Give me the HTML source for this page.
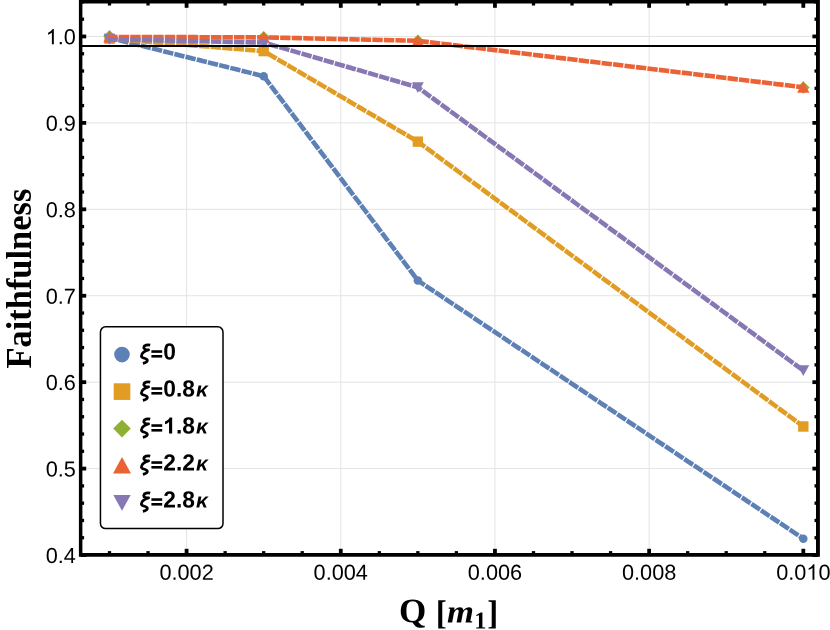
<!DOCTYPE html>
<html><head><meta charset="utf-8"><title>Faithfulness</title>
<style>
html,body{margin:0;padding:0;background:#fff;}
body{width:830px;height:630px;overflow:hidden;}
svg{display:block;will-change:transform;}
text{font-family:"Liberation Sans",sans-serif;fill:#000;}
.tkn{font-weight:normal;}
.lgn{font-weight:bold;}
.lg{font-size:21.6px;font-weight:bold;}
.lgi{font-size:21.6px;font-weight:bold;font-style:italic;}
.ax{font-family:"Liberation Serif",serif;font-weight:bold;}
</style></head><body>
<svg role="img" aria-label="Faithfulness versus Q [m1] for several values of xi" width="830" height="630" viewBox="0 0 830 630">
<rect x="0" y="0" width="830" height="630" fill="#fff"/>
<g stroke="#e3e3e3" stroke-width="1" fill="none">
<line x1="186.59" y1="1.8" x2="186.59" y2="554.8"/>
<line x1="340.77" y1="1.8" x2="340.77" y2="554.8"/>
<line x1="494.95" y1="1.8" x2="494.95" y2="554.8"/>
<line x1="649.13" y1="1.8" x2="649.13" y2="554.8"/>
<line x1="80.65" y1="468.6" x2="817.95" y2="468.6"/>
<line x1="80.65" y1="382.17" x2="817.95" y2="382.17"/>
<line x1="80.65" y1="295.74" x2="817.95" y2="295.74"/>
<line x1="80.65" y1="209.31" x2="817.95" y2="209.31"/>
<line x1="80.65" y1="122.88" x2="817.95" y2="122.88"/>
<line x1="80.65" y1="36.45" x2="817.95" y2="36.45"/>
</g>
<circle cx="109.50" cy="37.80" r="4.25" fill="#5E81B5"/>
<circle cx="263.68" cy="76.19" r="4.25" fill="#5E81B5"/>
<circle cx="417.86" cy="280.53" r="4.25" fill="#5E81B5"/>
<circle cx="803.31" cy="538.66" r="4.25" fill="#5E81B5"/>
<rect x="104.30" y="33.46" width="10.40" height="10.40" fill="#E19C24"/>
<rect x="258.48" y="45.91" width="10.40" height="10.40" fill="#E19C24"/>
<rect x="412.66" y="136.45" width="10.40" height="10.40" fill="#E19C24"/>
<rect x="798.11" y="421.30" width="10.40" height="10.40" fill="#E19C24"/>
<path d="M109.50 30.03L115.80 36.33L109.50 42.63L103.20 36.33Z" fill="#8FB032"/>
<path d="M263.68 30.89L269.98 37.19L263.68 43.49L257.38 37.19Z" fill="#8FB032"/>
<path d="M417.86 34.52L424.16 40.82L417.86 47.12L411.56 40.82Z" fill="#8FB032"/>
<path d="M803.31 81.13L809.61 87.43L803.31 93.73L797.01 87.43Z" fill="#8FB032"/>
<path d="M109.50 31.03L115.70 42.43L103.30 42.43Z" fill="#EB6235"/>
<path d="M263.68 31.46L269.88 42.86L257.48 42.86Z" fill="#EB6235"/>
<path d="M417.86 34.92L424.06 46.32L411.66 46.32Z" fill="#EB6235"/>
<path d="M803.31 81.36L809.51 92.76L797.11 92.76Z" fill="#EB6235"/>
<path d="M103.60 34.07L115.40 34.07L109.50 44.82Z" fill="#8778B3"/>
<path d="M257.78 37.35L269.58 37.35L263.68 48.10Z" fill="#8778B3"/>
<path d="M411.96 82.15L423.76 82.15L417.86 92.90Z" fill="#8778B3"/>
<path d="M797.41 365.27L809.21 365.27L803.31 376.02Z" fill="#8778B3"/>
<polyline points="109.50,37.80 263.68,76.19 417.86,280.53 803.31,538.66" fill="none" stroke="#5E81B5" stroke-width="4.6" stroke-dasharray="5.765 5.765" stroke-linecap="square" stroke-linejoin="miter"/>
<polyline points="109.50,38.66 263.68,51.11 417.86,141.65 803.31,426.50" fill="none" stroke="#E19C24" stroke-width="4.6" stroke-dasharray="5.765 5.765" stroke-linecap="square" stroke-linejoin="miter"/>
<polyline points="109.50,36.93 263.68,37.36 417.86,40.82 803.31,87.26" fill="none" stroke="#EB6235" stroke-width="4.6" stroke-dasharray="5.765 5.765" stroke-linecap="square" stroke-linejoin="miter"/>
<polyline points="109.50,39.27 263.68,42.55 417.86,87.35 803.31,370.47" fill="none" stroke="#8778B3" stroke-width="4.6" stroke-dasharray="5.765 5.765" stroke-linecap="square" stroke-linejoin="miter"/>
<line x1="80.65" y1="45.9" x2="817.95" y2="45.9" stroke="#000" stroke-width="2"/>
<g stroke="#000" stroke-width="3.4" fill="none">
<line stroke-width="3.3" x1="109.50" y1="554.8" x2="109.50" y2="551.0999999999999"/>
<line stroke-width="3.3" x1="109.50" y1="1.8" x2="109.50" y2="5.5"/>
<line stroke-width="3.3" x1="148.05" y1="554.8" x2="148.05" y2="551.0999999999999"/>
<line stroke-width="3.3" x1="148.05" y1="1.8" x2="148.05" y2="5.5"/>
<line stroke-width="3.8" x1="186.59" y1="554.8" x2="186.59" y2="548.8"/>
<line stroke-width="3.8" x1="186.59" y1="1.8" x2="186.59" y2="7.8"/>
<line stroke-width="3.3" x1="225.13" y1="554.8" x2="225.13" y2="551.0999999999999"/>
<line stroke-width="3.3" x1="225.13" y1="1.8" x2="225.13" y2="5.5"/>
<line stroke-width="3.3" x1="263.68" y1="554.8" x2="263.68" y2="551.0999999999999"/>
<line stroke-width="3.3" x1="263.68" y1="1.8" x2="263.68" y2="5.5"/>
<line stroke-width="3.3" x1="302.23" y1="554.8" x2="302.23" y2="551.0999999999999"/>
<line stroke-width="3.3" x1="302.23" y1="1.8" x2="302.23" y2="5.5"/>
<line stroke-width="3.8" x1="340.77" y1="554.8" x2="340.77" y2="548.8"/>
<line stroke-width="3.8" x1="340.77" y1="1.8" x2="340.77" y2="7.8"/>
<line stroke-width="3.3" x1="379.32" y1="554.8" x2="379.32" y2="551.0999999999999"/>
<line stroke-width="3.3" x1="379.32" y1="1.8" x2="379.32" y2="5.5"/>
<line stroke-width="3.3" x1="417.86" y1="554.8" x2="417.86" y2="551.0999999999999"/>
<line stroke-width="3.3" x1="417.86" y1="1.8" x2="417.86" y2="5.5"/>
<line stroke-width="3.3" x1="456.41" y1="554.8" x2="456.41" y2="551.0999999999999"/>
<line stroke-width="3.3" x1="456.41" y1="1.8" x2="456.41" y2="5.5"/>
<line stroke-width="3.8" x1="494.95" y1="554.8" x2="494.95" y2="548.8"/>
<line stroke-width="3.8" x1="494.95" y1="1.8" x2="494.95" y2="7.8"/>
<line stroke-width="3.3" x1="533.50" y1="554.8" x2="533.50" y2="551.0999999999999"/>
<line stroke-width="3.3" x1="533.50" y1="1.8" x2="533.50" y2="5.5"/>
<line stroke-width="3.3" x1="572.04" y1="554.8" x2="572.04" y2="551.0999999999999"/>
<line stroke-width="3.3" x1="572.04" y1="1.8" x2="572.04" y2="5.5"/>
<line stroke-width="3.3" x1="610.59" y1="554.8" x2="610.59" y2="551.0999999999999"/>
<line stroke-width="3.3" x1="610.59" y1="1.8" x2="610.59" y2="5.5"/>
<line stroke-width="3.8" x1="649.13" y1="554.8" x2="649.13" y2="548.8"/>
<line stroke-width="3.8" x1="649.13" y1="1.8" x2="649.13" y2="7.8"/>
<line stroke-width="3.3" x1="687.68" y1="554.8" x2="687.68" y2="551.0999999999999"/>
<line stroke-width="3.3" x1="687.68" y1="1.8" x2="687.68" y2="5.5"/>
<line stroke-width="3.3" x1="726.22" y1="554.8" x2="726.22" y2="551.0999999999999"/>
<line stroke-width="3.3" x1="726.22" y1="1.8" x2="726.22" y2="5.5"/>
<line stroke-width="3.3" x1="764.76" y1="554.8" x2="764.76" y2="551.0999999999999"/>
<line stroke-width="3.3" x1="764.76" y1="1.8" x2="764.76" y2="5.5"/>
<line stroke-width="3.8" x1="803.31" y1="554.8" x2="803.31" y2="548.8"/>
<line stroke-width="3.8" x1="803.31" y1="1.8" x2="803.31" y2="7.8"/>
<line stroke-width="3.8" x1="80.65" y1="555.03" x2="86.2" y2="555.03"/>
<line stroke-width="3.8" x1="817.95" y1="555.03" x2="812.4000000000001" y2="555.03"/>
<line stroke-width="3.3" x1="80.65" y1="537.74" x2="84.10000000000001" y2="537.74"/>
<line stroke-width="3.3" x1="817.95" y1="537.74" x2="814.5" y2="537.74"/>
<line stroke-width="3.3" x1="80.65" y1="520.46" x2="84.10000000000001" y2="520.46"/>
<line stroke-width="3.3" x1="817.95" y1="520.46" x2="814.5" y2="520.46"/>
<line stroke-width="3.3" x1="80.65" y1="503.17" x2="84.10000000000001" y2="503.17"/>
<line stroke-width="3.3" x1="817.95" y1="503.17" x2="814.5" y2="503.17"/>
<line stroke-width="3.3" x1="80.65" y1="485.89" x2="84.10000000000001" y2="485.89"/>
<line stroke-width="3.3" x1="817.95" y1="485.89" x2="814.5" y2="485.89"/>
<line stroke-width="3.8" x1="80.65" y1="468.60" x2="86.2" y2="468.60"/>
<line stroke-width="3.8" x1="817.95" y1="468.60" x2="812.4000000000001" y2="468.60"/>
<line stroke-width="3.3" x1="80.65" y1="451.31" x2="84.10000000000001" y2="451.31"/>
<line stroke-width="3.3" x1="817.95" y1="451.31" x2="814.5" y2="451.31"/>
<line stroke-width="3.3" x1="80.65" y1="434.03" x2="84.10000000000001" y2="434.03"/>
<line stroke-width="3.3" x1="817.95" y1="434.03" x2="814.5" y2="434.03"/>
<line stroke-width="3.3" x1="80.65" y1="416.74" x2="84.10000000000001" y2="416.74"/>
<line stroke-width="3.3" x1="817.95" y1="416.74" x2="814.5" y2="416.74"/>
<line stroke-width="3.3" x1="80.65" y1="399.46" x2="84.10000000000001" y2="399.46"/>
<line stroke-width="3.3" x1="817.95" y1="399.46" x2="814.5" y2="399.46"/>
<line stroke-width="3.8" x1="80.65" y1="382.17" x2="86.2" y2="382.17"/>
<line stroke-width="3.8" x1="817.95" y1="382.17" x2="812.4000000000001" y2="382.17"/>
<line stroke-width="3.3" x1="80.65" y1="364.88" x2="84.10000000000001" y2="364.88"/>
<line stroke-width="3.3" x1="817.95" y1="364.88" x2="814.5" y2="364.88"/>
<line stroke-width="3.3" x1="80.65" y1="347.60" x2="84.10000000000001" y2="347.60"/>
<line stroke-width="3.3" x1="817.95" y1="347.60" x2="814.5" y2="347.60"/>
<line stroke-width="3.3" x1="80.65" y1="330.31" x2="84.10000000000001" y2="330.31"/>
<line stroke-width="3.3" x1="817.95" y1="330.31" x2="814.5" y2="330.31"/>
<line stroke-width="3.3" x1="80.65" y1="313.03" x2="84.10000000000001" y2="313.03"/>
<line stroke-width="3.3" x1="817.95" y1="313.03" x2="814.5" y2="313.03"/>
<line stroke-width="3.8" x1="80.65" y1="295.74" x2="86.2" y2="295.74"/>
<line stroke-width="3.8" x1="817.95" y1="295.74" x2="812.4000000000001" y2="295.74"/>
<line stroke-width="3.3" x1="80.65" y1="278.45" x2="84.10000000000001" y2="278.45"/>
<line stroke-width="3.3" x1="817.95" y1="278.45" x2="814.5" y2="278.45"/>
<line stroke-width="3.3" x1="80.65" y1="261.17" x2="84.10000000000001" y2="261.17"/>
<line stroke-width="3.3" x1="817.95" y1="261.17" x2="814.5" y2="261.17"/>
<line stroke-width="3.3" x1="80.65" y1="243.88" x2="84.10000000000001" y2="243.88"/>
<line stroke-width="3.3" x1="817.95" y1="243.88" x2="814.5" y2="243.88"/>
<line stroke-width="3.3" x1="80.65" y1="226.60" x2="84.10000000000001" y2="226.60"/>
<line stroke-width="3.3" x1="817.95" y1="226.60" x2="814.5" y2="226.60"/>
<line stroke-width="3.8" x1="80.65" y1="209.31" x2="86.2" y2="209.31"/>
<line stroke-width="3.8" x1="817.95" y1="209.31" x2="812.4000000000001" y2="209.31"/>
<line stroke-width="3.3" x1="80.65" y1="192.02" x2="84.10000000000001" y2="192.02"/>
<line stroke-width="3.3" x1="817.95" y1="192.02" x2="814.5" y2="192.02"/>
<line stroke-width="3.3" x1="80.65" y1="174.74" x2="84.10000000000001" y2="174.74"/>
<line stroke-width="3.3" x1="817.95" y1="174.74" x2="814.5" y2="174.74"/>
<line stroke-width="3.3" x1="80.65" y1="157.45" x2="84.10000000000001" y2="157.45"/>
<line stroke-width="3.3" x1="817.95" y1="157.45" x2="814.5" y2="157.45"/>
<line stroke-width="3.3" x1="80.65" y1="140.17" x2="84.10000000000001" y2="140.17"/>
<line stroke-width="3.3" x1="817.95" y1="140.17" x2="814.5" y2="140.17"/>
<line stroke-width="3.8" x1="80.65" y1="122.88" x2="86.2" y2="122.88"/>
<line stroke-width="3.8" x1="817.95" y1="122.88" x2="812.4000000000001" y2="122.88"/>
<line stroke-width="3.3" x1="80.65" y1="105.59" x2="84.10000000000001" y2="105.59"/>
<line stroke-width="3.3" x1="817.95" y1="105.59" x2="814.5" y2="105.59"/>
<line stroke-width="3.3" x1="80.65" y1="88.31" x2="84.10000000000001" y2="88.31"/>
<line stroke-width="3.3" x1="817.95" y1="88.31" x2="814.5" y2="88.31"/>
<line stroke-width="3.3" x1="80.65" y1="71.02" x2="84.10000000000001" y2="71.02"/>
<line stroke-width="3.3" x1="817.95" y1="71.02" x2="814.5" y2="71.02"/>
<line stroke-width="3.3" x1="80.65" y1="53.74" x2="84.10000000000001" y2="53.74"/>
<line stroke-width="3.3" x1="817.95" y1="53.74" x2="814.5" y2="53.74"/>
<line stroke-width="3.8" x1="80.65" y1="36.45" x2="86.2" y2="36.45"/>
<line stroke-width="3.8" x1="817.95" y1="36.45" x2="812.4000000000001" y2="36.45"/>
<line stroke-width="3.3" x1="80.65" y1="19.16" x2="84.10000000000001" y2="19.16"/>
<line stroke-width="3.3" x1="817.95" y1="19.16" x2="814.5" y2="19.16"/>
<line stroke-width="3.3" x1="80.65" y1="1.88" x2="84.10000000000001" y2="1.88"/>
<line stroke-width="3.3" x1="817.95" y1="1.88" x2="814.5" y2="1.88"/>
</g>
<path d="M78.9 0.05H819.9V556.65H78.9Z M82.4 3.6V553.0H816.0V3.6Z" fill="#000" fill-rule="evenodd"/>
<text class="tkn" font-size="21.7" transform="translate(159.44 579.70) rotate(0.05) scale(1 1.0)">0.002</text>
<text class="tkn" font-size="21.7" transform="translate(313.62 579.70) rotate(0.05) scale(1 1.0)">0.004</text>
<text class="tkn" font-size="21.7" transform="translate(467.80 579.70) rotate(0.05) scale(1 1.0)">0.006</text>
<text class="tkn" font-size="21.7" transform="translate(621.98 579.70) rotate(0.05) scale(1 1.0)">0.008</text>
<text class="tkn" font-size="21.7" transform="translate(776.16 579.70) rotate(0.05) scale(1 1.0)">0.0</text><path d="M763 0H583V1147Q518 1085 412.5 1023T223 930V1104Q374 1175 487 1276T647 1472H763Z" transform="translate(806.32 579.70) scale(0.01060 -0.01044)" fill="#000"/><text class="tkn" font-size="21.7" transform="translate(818.39 579.70) rotate(0.05) scale(1 1.0)">0</text>
<text class="tkn" font-size="21.7" transform="translate(45.73 562.93) rotate(0.05) scale(1 1.0)">0.4</text>
<text class="tkn" font-size="21.7" transform="translate(45.73 476.50) rotate(0.05) scale(1 1.0)">0.5</text>
<text class="tkn" font-size="21.7" transform="translate(45.73 390.07) rotate(0.05) scale(1 1.0)">0.6</text>
<text class="tkn" font-size="21.7" transform="translate(45.73 303.64) rotate(0.05) scale(1 1.0)">0.7</text>
<text class="tkn" font-size="21.7" transform="translate(45.73 217.21) rotate(0.05) scale(1 1.0)">0.8</text>
<text class="tkn" font-size="21.7" transform="translate(45.73 130.78) rotate(0.05) scale(1 1.0)">0.9</text>
<path d="M763 0H583V1147Q518 1085 412.5 1023T223 930V1104Q374 1175 487 1276T647 1472H763Z" transform="translate(45.73 44.35) scale(0.01060 -0.01044)" fill="#000"/><text class="tkn" font-size="21.7" transform="translate(57.80 44.35) rotate(0.05) scale(1 1.0)">.0</text>
<text class="ax" font-size="35.6" transform="translate(31.0 368.5) rotate(-90)" textLength="179.8" lengthAdjust="spacingAndGlyphs">Faithfulness</text>
<text class="ax" font-size="34.4" transform="translate(399.1 622.15) rotate(0.05) scale(1.02 1)">Q</text>
<text class="ax" font-size="33" transform="translate(435.7 624.1) rotate(0.05) scale(1 1.035)">[</text>
<text class="ax" font-size="33" font-style="italic" transform="translate(446.9 622.5) rotate(0.05) scale(1.05 0.99)">m</text>
<text class="ax" font-size="24.4" transform="translate(474.2 628.4) rotate(0.05)">1</text>
<text class="ax" font-size="33" transform="translate(487.2 624.1) rotate(0.05) scale(1 1.035)">]</text>
<rect x="100.45" y="326.87" width="122.55" height="201.73" rx="5.1" ry="5.1" fill="#fff" stroke="#000" stroke-width="1.5"/>
<g aria-label="ξ=0">
<circle cx="122.00" cy="354.60" r="7.80" fill="#5E81B5"/>
<path d="M150.18 345.13C147.51 344.42 144.04 345.22 143.78 347.44C143.56 349.58 146.53 350.11 148.58 349.93C145.29 350.64 141.20 353.22 141.38 356.11C141.64 358.56 147.51 358.02 147.33 360.42C147.20 362.20 144.84 363.00 142.89 363.44" fill="none" stroke="#000" stroke-width="2.8" stroke-linecap="butt" stroke-linejoin="round"/>
<rect x="151.4" y="350.25" width="10.8" height="2.6" fill="#000"/><rect x="151.4" y="355.00" width="10.8" height="2.6" fill="#000"/>
<text class="lgn" font-size="22.8" transform="translate(163.20 359.55) rotate(0.05) scale(1 1.025)">0</text>
</g>
<g aria-label="ξ=0.8κ">
<rect x="113.68" y="383.28" width="16.64" height="16.64" fill="#E19C24"/>
<path d="M150.18 382.13C147.51 381.42 144.04 382.22 143.78 384.44C143.56 386.58 146.53 387.11 148.58 386.93C145.29 387.64 141.20 390.22 141.38 393.11C141.64 395.56 147.51 395.02 147.33 397.42C147.20 399.20 144.84 400.00 142.89 400.44" fill="none" stroke="#000" stroke-width="2.8" stroke-linecap="butt" stroke-linejoin="round"/>
<rect x="151.4" y="387.25" width="10.8" height="2.6" fill="#000"/><rect x="151.4" y="392.00" width="10.8" height="2.6" fill="#000"/>
<text class="lgn" font-size="22.8" transform="translate(163.20 396.55) rotate(0.05) scale(1 1.025)">0.8</text>
<text class="lgi" style="font-size:21px" transform="translate(196.05 396.60) rotate(0.05)">κ</text>
</g>
<g aria-label="ξ=1.8κ">
<path d="M122.00 419.78L130.82 428.60L122.00 437.42L113.18 428.60Z" fill="#8FB032"/>
<path d="M150.18 419.13C147.51 418.42 144.04 419.22 143.78 421.44C143.56 423.58 146.53 424.11 148.58 423.93C145.29 424.64 141.20 427.22 141.38 430.11C141.64 432.56 147.51 432.02 147.33 434.42C147.20 436.20 144.84 437.00 142.89 437.44" fill="none" stroke="#000" stroke-width="2.8" stroke-linecap="butt" stroke-linejoin="round"/>
<rect x="151.4" y="424.25" width="10.8" height="2.6" fill="#000"/><rect x="151.4" y="429.00" width="10.8" height="2.6" fill="#000"/>
<path d="M806 0H525V1059Q371 915 162 846V1101Q272 1137 401 1237.5T578 1472H806Z" transform="translate(163.20 433.55) scale(0.01113 -0.01097)" fill="#000"/><text class="lgn" font-size="22.8" transform="translate(175.88 433.55) rotate(0.05) scale(1 1.025)">.8</text>
<text class="lgi" style="font-size:21px" transform="translate(196.05 433.60) rotate(0.05)">κ</text>
</g>
<g aria-label="ξ=2.2κ">
<path d="M122.00 457.05L130.99 473.58L113.01 473.58Z" fill="#EB6235"/>
<path d="M150.18 456.13C147.51 455.42 144.04 456.22 143.78 458.44C143.56 460.58 146.53 461.11 148.58 460.93C145.29 461.64 141.20 464.22 141.38 467.11C141.64 469.56 147.51 469.02 147.33 471.42C147.20 473.20 144.84 474.00 142.89 474.44" fill="none" stroke="#000" stroke-width="2.8" stroke-linecap="butt" stroke-linejoin="round"/>
<rect x="151.4" y="461.25" width="10.8" height="2.6" fill="#000"/><rect x="151.4" y="466.00" width="10.8" height="2.6" fill="#000"/>
<text class="lgn" font-size="22.8" transform="translate(163.20 470.55) rotate(0.05) scale(1 1.025)">2.2</text>
<text class="lgi" style="font-size:21px" transform="translate(196.05 470.60) rotate(0.05)">κ</text>
</g>
<g aria-label="ξ=2.8κ">
<path d="M113.33 494.96L130.67 494.96L122.00 510.76Z" fill="#8778B3"/>
<path d="M150.18 493.13C147.51 492.42 144.04 493.22 143.78 495.44C143.56 497.58 146.53 498.11 148.58 497.93C145.29 498.64 141.20 501.22 141.38 504.11C141.64 506.56 147.51 506.02 147.33 508.42C147.20 510.20 144.84 511.00 142.89 511.44" fill="none" stroke="#000" stroke-width="2.8" stroke-linecap="butt" stroke-linejoin="round"/>
<rect x="151.4" y="498.25" width="10.8" height="2.6" fill="#000"/><rect x="151.4" y="503.00" width="10.8" height="2.6" fill="#000"/>
<text class="lgn" font-size="22.8" transform="translate(163.20 507.55) rotate(0.05) scale(1 1.025)">2.8</text>
<text class="lgi" style="font-size:21px" transform="translate(196.05 507.60) rotate(0.05)">κ</text>
</g>
</svg></body></html>
